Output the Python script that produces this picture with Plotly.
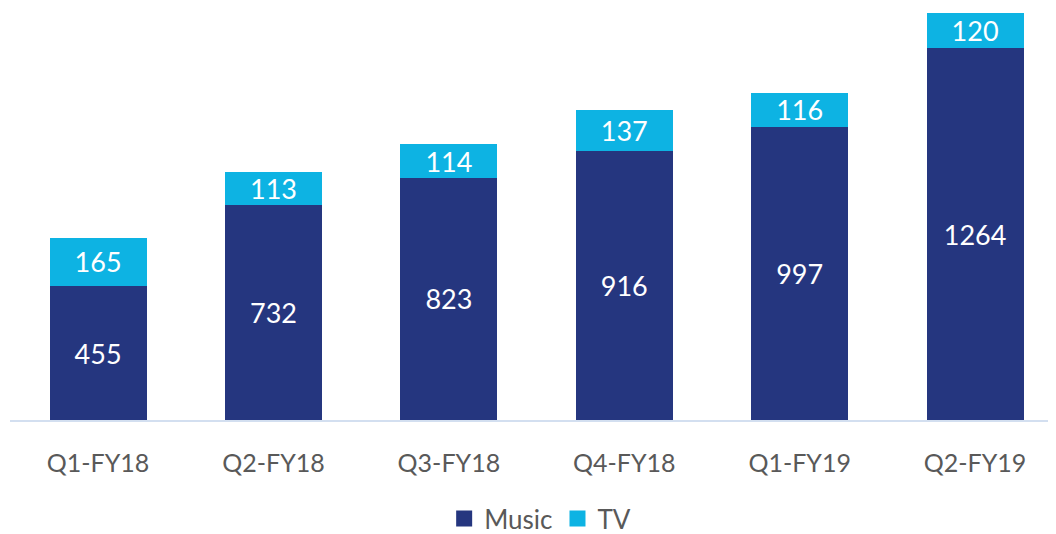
import plotly.graph_objects as go

categories = ["Q1-FY18", "Q2-FY18", "Q3-FY18", "Q4-FY18", "Q1-FY19", "Q2-FY19"]
music = [455, 732, 823, 916, 997, 1264]
tv = [165, 113, 114, 137, 116, 120]

FONT = "Lato"
MUSIC_COLOR = "#25367f"
TV_COLOR = "#0db3e3"

fig = go.Figure()
fig.add_trace(go.Bar(
    name="Music", x=categories, y=music, showlegend=False,
    marker=dict(color=MUSIC_COLOR, line=dict(width=0)),
    text=[str(v) for v in music], textposition="inside", insidetextanchor="middle",
    textangle=0, constraintext="none",
    textfont=dict(family=FONT, size=27, color="white"),
))
fig.add_trace(go.Bar(
    name="TV", x=categories, y=tv, showlegend=False,
    marker=dict(color=TV_COLOR, line=dict(width=0)),
    text=[str(v) for v in tv], textposition="inside", insidetextanchor="middle",
    textangle=0, constraintext="none",
    textfont=dict(family=FONT, size=27, color="white"),
))
# legend entries with larger square swatches
for name, col in [("Music", MUSIC_COLOR), ("TV", TV_COLOR)]:
    fig.add_trace(go.Scatter(
        x=[None], y=[None], mode="markers", name=name,
        marker=dict(symbol="square", size=18, color=col),
    ))

fig.update_layout(
    width=1056, height=534,
    barmode="stack", bargap=0.447,
    plot_bgcolor="white", paper_bgcolor="white",
    margin=dict(l=2, r=0, t=0, b=122, autoexpand=False),
    font=dict(family=FONT, color="#595959"),
    xaxis=dict(range=[-0.502, 5.507], showline=True, linecolor="#d3dff0", linewidth=2,
               ticks="", tickfont=dict(size=25, color="#595959"), showgrid=False,
               ticklabelstandoff=20, automargin=False),
    yaxis=dict(range=[0, 1401], visible=False, showgrid=False),
    legend=dict(orientation="h", x=0.503, xanchor="center",
                yref="container", y=0.044, yanchor="middle",
                font=dict(size=26, color="#595959"), traceorder="normal",
                itemsizing="trace"),
    showlegend=True,
)

fig.write_html("out.html")
